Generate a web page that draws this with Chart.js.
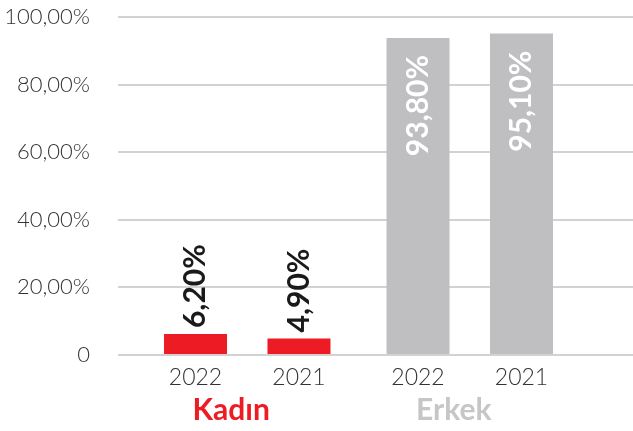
<!DOCTYPE html>
<html>
<head>
<meta charset="utf-8">
<script src="https://cdn.jsdelivr.net/npm/chart.js@4.4.1/dist/chart.umd.min.js"></script>
<style>
  html, body { margin: 0; padding: 0; background: #ffffff; }
  #wrap { width: 633px; height: 431px; position: relative; }
</style>
</head>
<body>
<div id="wrap"><canvas id="c"></canvas></div>
<script>
const groups = ['Kadın', 'Erkek'];
const years = ['2022', '2021'];
const values2022 = [6.2, 93.8];
const values2021 = [4.9, 95.1];
const valueLabels2022 = ['6,20%', '93,80%'];
const valueLabels2021 = ['4,90%', '95,10%'];
const yTicks = [0, 20, 40, 60, 80, 100];

const RED = '#ED1C24';
const GREY = '#BFBFC1';
const barColors = [RED, GREY];
const groupColors = [RED, '#C6C6C8'];
const FONT = 'Lato, "Open Sans", sans-serif';

const labelPlugin = {
  id: 'barLabels',
  afterDatasetsDraw(chart) {
    const ctx = chart.ctx;
    const yScale = chart.scales.y;
    const zeroY = yScale.getPixelForValue(0);
    chart.data.datasets.forEach((ds, di) => {
      const meta = chart.getDatasetMeta(di);
      meta.data.forEach((bar, i) => {
        ctx.save();
        ctx.font = '300 23px ' + FONT;
        ctx.fillStyle = '#333333';
        ctx.textAlign = 'center';
        ctx.textBaseline = 'middle';
        ctx.fillText(ds.label, bar.x, zeroY + 23);
        ctx.restore();
        const v = ds.data[i];
        const txt = ds.valueLabels[i];
        ctx.save();
        ctx.font = 'bold 30px ' + FONT;
        ctx.translate(bar.x, bar.y);
        ctx.rotate(-Math.PI / 2);
        ctx.textBaseline = 'middle';
        if (v > 50) {
          ctx.fillStyle = '#ffffff';
          ctx.textAlign = 'right';
          ctx.fillText(txt, -17, 0);
        } else {
          ctx.fillStyle = '#1a1a1a';
          ctx.textAlign = 'left';
          ctx.fillText(txt, 6, 0);
        }
        ctx.restore();
      });
    });
  }
};

const chart = new Chart(document.getElementById('c'), {
  type: 'bar',
  data: {
    labels: groups,
    datasets: [
      { label: years[0], data: values2022, valueLabels: valueLabels2022, backgroundColor: barColors },
      { label: years[1], data: values2021, valueLabels: valueLabels2021, backgroundColor: barColors }
    ]
  },
  options: {
    responsive: true,
    maintainAspectRatio: false,
    animation: false,
    categoryPercentage: 0.93,
    barPercentage: 0.609,
    layout: { padding: { top: 17, bottom: 0, left: 0, right: 0 } },
    plugins: { legend: { display: false }, tooltip: { enabled: false } },
    scales: {
      x: {
        afterFit: (s) => { s.height = 76; },
        grid: { display: false, drawTicks: false },
        border: { display: false },
        ticks: {
          padding: 37,
          labelOffset: -16,
          maxRotation: 0,
          font: { family: FONT, size: 30, weight: 'bold' },
          color: (ctx) => groupColors[ctx.index]
        }
      },
      y: {
        min: 0, max: 100,
        afterBuildTicks: (s) => { s.ticks = yTicks.map(v => ({ value: v })); },
        afterFit: (s) => { s.width = 136; s.paddingTop = 0; s.paddingBottom = 0; },
        grid: { color: '#D2D2D2', lineWidth: 2, drawTicks: true, tickLength: 18, tickColor: '#D2D2D2' },
        border: { display: false },
        ticks: {
          padding: 28,
          color: '#333333',
          font: { family: FONT, size: 22, weight: '300' },
          callback: (v) => v === 0 ? '0' : v.toFixed(2).replace('.', ',') + '%'
        }
      },
      y2: {
        position: 'right',
        min: 0, max: 100,
        afterBuildTicks: (s) => { s.ticks = yTicks.map(v => ({ value: v })); },
        afterFit: (s) => { s.width = 52; s.paddingTop = 0; s.paddingBottom = 0; },
        grid: { drawOnChartArea: false, color: '#D2D2D2', lineWidth: 2, drawTicks: true, tickLength: 52, tickColor: '#D2D2D2' },
        border: { display: false },
        ticks: { display: false }
      }
    }
  },
  plugins: [labelPlugin]
});
</script>
</body>
</html>
